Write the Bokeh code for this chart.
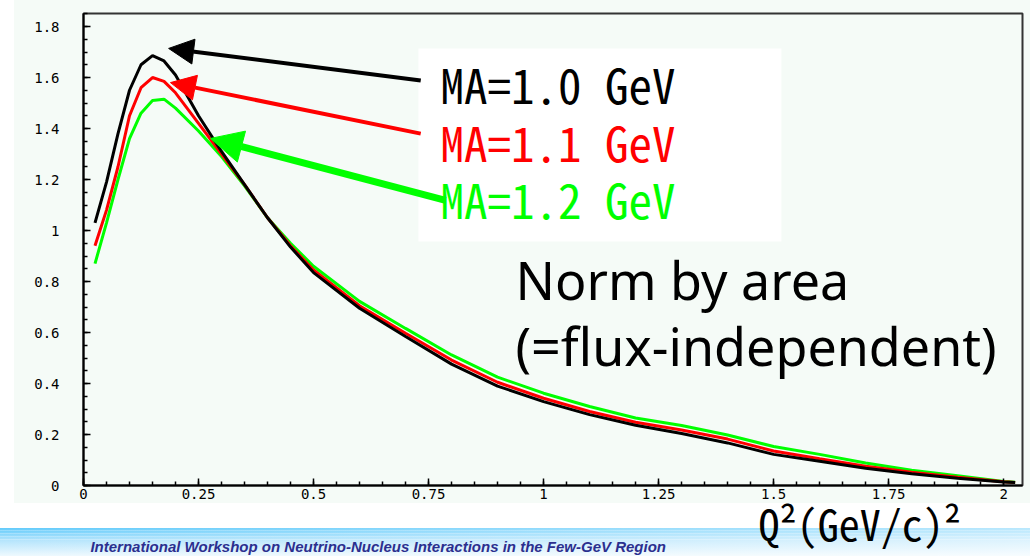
import numpy as np
from bokeh.plotting import figure
from bokeh.layouts import column
from bokeh.models import FixedTicker, Label, Arrow, NormalHead, BoxAnnotation, Range1d
from bokeh.embed import file_html
from bokeh.resources import INLINE

# ---- data ----
q2 = [0.025, 0.05, 0.075, 0.1, 0.125, 0.15, 0.175, 0.2, 0.25, 0.3, 0.35, 0.4, 0.45, 0.5,
      0.6, 0.7, 0.8, 0.9, 1.0, 1.1, 1.2, 1.3, 1.4, 1.5, 1.6, 1.7, 1.8, 1.9, 2.0, 2.025]
ma10 = [1.03, 1.19, 1.38, 1.55, 1.65, 1.686, 1.665, 1.61, 1.45, 1.31, 1.18, 1.05, 0.935, 0.835,
        0.695, 0.584, 0.476, 0.39, 0.329, 0.278, 0.236, 0.204, 0.167, 0.122, 0.095, 0.068, 0.046, 0.028, 0.014, 0.012]
ma11 = [0.94, 1.08, 1.25, 1.45, 1.56, 1.60, 1.585, 1.54, 1.42, 1.30, 1.18, 1.05, 0.94, 0.845,
        0.705, 0.597, 0.492, 0.405, 0.342, 0.29, 0.248, 0.218, 0.182, 0.135, 0.105, 0.076, 0.052, 0.032, 0.015, 0.012]
ma12 = [0.87, 1.03, 1.20, 1.36, 1.46, 1.51, 1.515, 1.48, 1.39, 1.29, 1.175, 1.05, 0.95, 0.86,
        0.722, 0.616, 0.512, 0.425, 0.362, 0.31, 0.265, 0.235, 0.198, 0.153, 0.122, 0.088, 0.06, 0.038, 0.016, 0.013]
series_names = ["MA=1.0 GeV", "MA=1.1 GeV", "MA=1.2 GeV"]
series_colors = ["#000000", "#ff0000", "#00ff00"]

x_ticks = [0, 0.25, 0.5, 0.75, 1.0, 1.25, 1.5, 1.75, 2.0]
x_tick_labels = ["0", "0.25", "0.5", "0.75", "1", "1.25", "1.5", "1.75", "2"]
y_ticks = [0, 0.2, 0.4, 0.6, 0.8, 1.0, 1.2, 1.4, 1.6, 1.8]
y_tick_labels = ["0", "0.2", "0.4", "0.6", "0.8", "1", "1.2", "1.4", "1.6", "1.8"]

x_title = "Q\u00b2(GeV/c)\u00b2"
note_lines = ["Norm by area", "(=flux-independent)"]
footer = "International Workshop on Neutrino-Nucleus Interactions in the Few-GeV Region"

PALE = "#f5fbf7"
xr = Range1d(0, 2.041)

# ---------------- main plot ----------------
p = figure(width=1030, height=505, x_range=xr, y_range=Range1d(0, 1.851),
           output_backend="svg", toolbar_location=None,
           min_border_left=83, min_border_right=8, min_border_top=13, min_border_bottom=20)
p.border_fill_color = None
p.background_fill_color = PALE
p.outline_line_color = "#333333"
p.outline_line_width = 2
p.grid.visible = False
p.styles = {"background": f"linear-gradient({PALE}, {PALE}) 14px 0 / 1016px 503px no-repeat, #ffffff"}

x_minor = [round(v, 3) for v in np.arange(0, 2.041, 0.05)]
y_minor = [round(v, 3) for v in np.arange(0, 1.851, 0.05)]
p.xaxis.ticker = FixedTicker(ticks=x_ticks, minor_ticks=x_minor)
p.yaxis.ticker = FixedTicker(ticks=y_ticks, minor_ticks=y_minor)
p.xaxis.major_label_overrides = {t: l for t, l in zip(x_ticks, x_tick_labels)}
p.yaxis.major_label_overrides = {t: l for t, l in zip(y_ticks, y_tick_labels)}
for ax in (p.xaxis, p.yaxis):
    ax.axis_line_width = 2
    ax.axis_line_color = "black"
    ax.major_tick_in = 7
    ax.major_tick_out = 0
    ax.minor_tick_in = 4
    ax.minor_tick_out = 0
    ax.major_tick_line_width = 1.5
    ax.minor_tick_line_width = 1.5
    ax.major_tick_line_color = "black"
    ax.minor_tick_line_color = "black"
    ax.major_label_text_font = "DejaVu Sans Mono"
    ax.major_label_text_font_size = "14px"
    ax.major_label_text_color = "black"
p.xaxis.major_label_standoff = 3
p.yaxis.major_label_standoff = 24

# white label box
p.add_layout(BoxAnnotation(left=0.728, right=1.517, top=1.714, bottom=0.957,
                           fill_color="white", fill_alpha=1.0, line_alpha=0, level="underlay"))

# curves
for ys, c in zip([ma12, ma11, ma10], series_colors[::-1]):
    p.line(q2, ys, line_color=c, line_width=3)

# arrows from labels to peaks
arrow_specs = [
    (0.733, 1.588, 0.185, 1.714, "#000000", 4, 25),
    (0.733, 1.380, 0.189, 1.580, "#ff0000", 4, 25),
    (0.787, 1.118, 0.276, 1.361, "#00ff00", 7, 32),
]
for xs, ys_, xe, ye, c, w, hs in arrow_specs:
    p.add_layout(Arrow(end=NormalHead(size=hs, fill_color=c, line_color=c),
                       x_start=xs, y_start=ys_, x_end=xe, y_end=ye,
                       line_color=c, line_width=w))

# series labels
label_y = [1.576, 1.349, 1.125]
for name, c, yy in zip(series_names, series_colors, label_y):
    p.add_layout(Label(x=0.776, y=yy, text=name, text_color=c,
                       text_font="Noto Sans Mono CJK JP", text_font_size="47px",
                       text_baseline="alphabetic", text_align="left"))

# note
for line, yy in zip(note_lines, [0.808, 0.549]):
    p.add_layout(Label(x=0.939, y=yy, text=line, text_color="black",
                       text_font="Noto Sans", text_font_size="52px",
                       text_baseline="alphabetic", text_align="left"))

# ---------------- bottom strip (slide band + axis title), overlapping the plot's lower edge ----------------
b = figure(width=1030, height=91, x_range=xr, y_range=Range1d(91, 0),
           output_backend="svg", toolbar_location=None, min_border=0,
           x_axis_type=None, y_axis_type=None)
b.margin = (-40, 0, 0, 0)
b.outline_line_color = None
b.background_fill_color = None
b.border_fill_color = None
b.grid.visible = False
b.styles = {"background": (
    "linear-gradient(to right, rgba(255,255,255,0) 0%, rgba(255,255,255,0.55) 100%) 0 63px / 100% 28px no-repeat, "
    "repeating-linear-gradient(to bottom, rgba(255,255,255,0) 0px, rgba(255,255,255,0) 2px, rgba(255,255,255,0.25) 2px, rgba(255,255,255,0.25) 3px) 0 63px / 100% 14px no-repeat, "
    "linear-gradient(to bottom, #62cbfb 0%, #b6e5fc 45%, #eef9fe 100%) 0 63px / 100% 28px no-repeat, "
    "linear-gradient(#ffffff, #ffffff) 0 40px / 100% 23px no-repeat")}

b.add_layout(Label(x=0.015, y=72, text=footer, text_color="#2b2f8f",
                   text_font="Liberation Sans", text_font_style="bold italic",
                   text_font_size="15px", text_baseline="top", text_align="left"))
b.add_layout(Label(x=1.467, y=57, text=x_title, text_color="black",
                   text_font="Noto Sans Mono CJK JP", text_font_size="42px",
                   text_baseline="alphabetic", text_align="left"))

layout = column(p, b, spacing=0)
open("out.html", "w").write(file_html(layout, INLINE))
